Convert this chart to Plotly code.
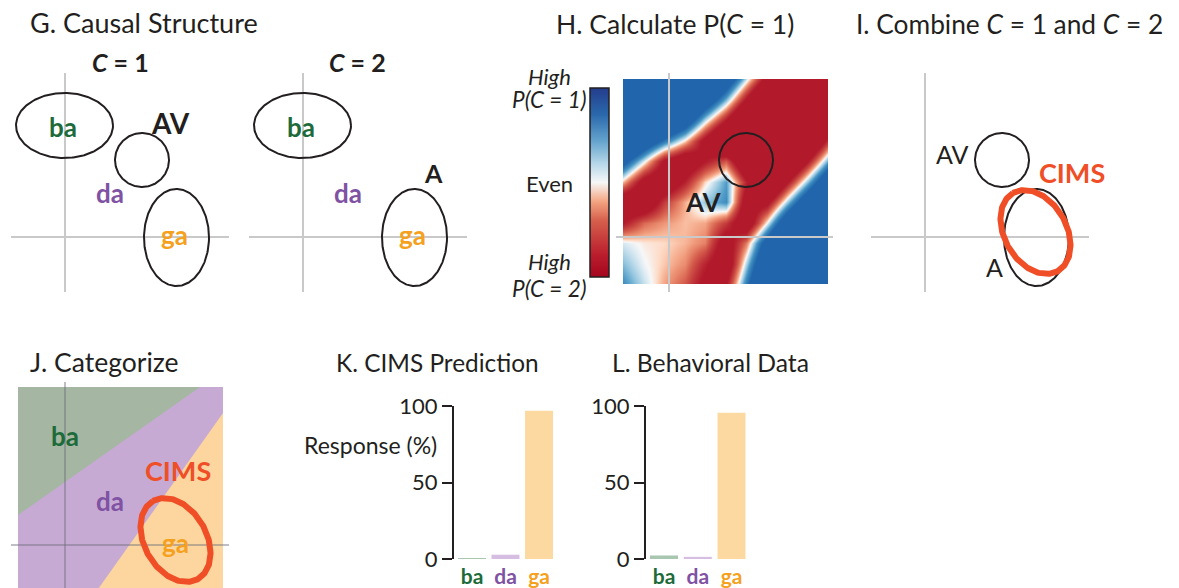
import numpy as np
import plotly.graph_objects as go
from plotly.colors import sample_colorscale

W, H = 1179, 588
INK = '#231f20'
GREEN = '#1d6b3a'
PURPLE = '#7f52a3'
ORANGE = '#f5a11d'
RED = '#ef4e26'
GRAY = '#c9c9c9'
FONT = 'Lato'

# ---------------- data ----------------
CATS = ['ba', 'da', 'ga']
CAT_TEXT_COLORS = [GREEN, PURPLE, ORANGE]
BAR_COLORS = ['#a9c6b0', '#d6bee2', '#fbd9a0']
CIMS_PRED = [0.5, 2.8, 96.9]
BEHAV = [2.3, 1.4, 95.6]
YTICKS = [0, 50, 100]

# ellipses: (cx, cy, rx, ry, angle_deg) in panel units (px from crosshair origin)
ELL_BA = (-0.5, 111.5, 48.5, 32.5, 0)
ELL_AV = (77, 77, 27, 27, 0)
ELL_GA = (111.5, -0.5, 32.5, 48.5, 0)
ELL_CIMS = (110.5, 5, 45, 31, 120)

CROSS_X = [-54, 164]
CROSS_Y = [-55, 164]

# log-odds of C = 1 (negative = P(C=2) high, positive = P(C=1) high)
HX = [-46, -25.5, -5, 15.5, 36, 56.5, 77, 97.5, 118, 138.5, 159]
HY = [158, 137.5, 117, 96.5, 76, 55.5, 35, 14.5, -6, -26.5, -47]
HZ = [
    [6.0, 6.0, 6.0, 6.0, 6.0, 3.4, 0.3, -2.8, -5.8, -6.0, -6.0],
    [6.0, 6.0, 6.0, 6.0, 3.4, 0.7, -2.4, -5.5, -6.0, -6.0, -6.0],
    [6.0, 6.0, 5.1, 3.3, 0.36, -2.2, -5.1, -6.0, -6.0, -6.0, -4.4],
    [5.9, 3.5, 1.6, -0.24, -2.7, -5.2, -6.0, -6.0, -6.0, -4.8, -1.75],
    [2.6, 0.16, -2.4, -3.5, -2.2, -1.2, -4.0, -6.0, -5.2, -2.2, 0.9],
    [-0.4, -2.8, -3.5, -2.0, -0.2, 1.0, -2.0, -5.4, -2.3, 0.75, 3.8],
    [-3.5, -3.6, -1.6, -0.45, 0.6, 1.2, -3.0, -2.6, 0.5, 3.6, 6.0],
    [-2.2, -1.0, -0.6, -0.35, -0.5, -1.6, -3.4, 0.07, 3.6, 6.0, 6.0],
    [0.2, -0.1, -0.2, -0.4, -0.8, -3.0, -0.85, 2.9, 6.0, 6.0, 6.0],
    [0.7, 0.05, -0.3, -0.7, -2.0, -3.3, 0.42, 4.2, 6.0, 6.0, 6.0],
    [1.2, 0.3, -0.5, -1.2, -2.6, -2.3, 1.5, 5.2, 6.0, 6.0, 6.0],
]
# colour of a probability (0 = P(C=2) high, 1 = P(C=1) high)
MAP_SCALE = [
    [0.0, 'rgb(178,26,44)'], [0.1, 'rgb(178,26,44)'], [0.25, 'rgb(214,96,77)'],
    [0.38, 'rgb(244,165,130)'], [0.45, 'rgb(253,219,199)'], [0.5, 'rgb(247,247,247)'],
    [0.56, 'rgb(209,229,240)'], [0.65, 'rgb(146,197,222)'], [0.75, 'rgb(67,147,195)'],
    [0.88, 'rgb(33,102,172)'], [1.0, 'rgb(33,102,172)'],
]
BAR_SCALE = [
    [0.0, 'rgb(165,5,30)'], [0.12, 'rgb(186,30,45)'], [0.3, 'rgb(214,96,77)'],
    [0.4, 'rgb(244,165,130)'], [0.5, 'rgb(247,247,247)'], [0.6, 'rgb(182,215,232)'],
    [0.72, 'rgb(100,163,205)'], [0.86, 'rgb(42,104,172)'], [1.0, 'rgb(36,60,140)'],
]
LOGIT_MIN, LOGIT_MAX = -6, 6

# categorisation regions (panel J), in panel units
J_SQUARE_X = [-47, 158, 158, -47]
J_SQUARE_Y = [-47, -47, 158, 158]
J_GREEN_X = [-47, -47, 135]
J_GREEN_Y = [30, 158, 158]
J_ORANGE_X = [31, 158, 158]
J_ORANGE_Y = [-47, -47, 132]

# ---------------- helpers ----------------
fig = go.Figure()
layout = dict(width=W, height=H, margin=dict(l=0, r=0, t=0, b=0, pad=0, autoexpand=False),
              paper_bgcolor='white', plot_bgcolor='rgba(0,0,0,0)',
              showlegend=False, font=dict(family=FONT, color=INK))
annotations = []


def axname(n, ax):
    return ax + ('' if n == 1 else str(n))


def panel(n, left, top, w, h, ox, oy):
    layout[axname(n, 'xaxis')] = dict(domain=[left / W, (left + w) / W], range=[left - ox, left + w - ox],
                                      visible=False, fixedrange=True, anchor=axname(n, 'y'))
    layout[axname(n, 'yaxis')] = dict(domain=[1 - (top + h) / H, 1 - top / H], range=[oy - (top + h), oy - top],
                                      visible=False, fixedrange=True, anchor=axname(n, 'x'))


def refs(n):
    return ('x' if n == 1 else f'x{n}'), ('y' if n == 1 else f'y{n}')


def line(n, xs, ys, color=GRAY, width=2):
    xr, yr = refs(n)
    fig.add_trace(go.Scatter(x=xs, y=ys, mode='lines', line=dict(color=color, width=width),
                             xaxis=xr, yaxis=yr, hoverinfo='skip'))


def crosshair(n, color=GRAY):
    line(n, CROSS_X, [0, 0], color)
    line(n, [0, 0], CROSS_Y, color)


def ellipse(n, e, color=INK, width=2):
    cx, cy, rx, ry, ang = e
    t = np.linspace(0, 2 * np.pi, 241)
    a = np.deg2rad(ang)
    x = cx + rx * np.cos(t) * np.cos(a) - ry * np.sin(t) * np.sin(a)
    y = cy + rx * np.cos(t) * np.sin(a) + ry * np.sin(t) * np.cos(a)
    line(n, x, y, color, width)


def label(n, x, y, text, color=INK, size=26, bold=True):
    xr, yr = refs(n)
    annotations.append(dict(x=x, y=y, xref=xr, yref=yr, text=(f'<b>{text}</b>' if bold else text),
                            showarrow=False, font=dict(family=FONT, size=size, color=color),
                            xanchor='center', yanchor='middle'))


def ptext(px, py, text, size=26, anchor='left', color=INK):
    annotations.append(dict(x=px / W, y=1 - py / H, xref='paper', yref='paper', text=text,
                            showarrow=False, font=dict(family=FONT, size=size, color=color),
                            xanchor=anchor, yanchor='middle'))


# ---------------- G: causal structure ----------------
panel(1, 0, 40, 240, 260, 65, 237)
panel(2, 240, 40, 240, 260, 303, 237)
for n in (1, 2):
    crosshair(n)
    ellipse(n, ELL_BA)
    ellipse(n, ELL_GA)
    label(n, -2, 110, 'ba', GREEN)
    label(n, 45, 44, 'da', PURPLE)
    label(n, 109, 2, 'ga', ORANGE)
ellipse(1, ELL_AV)
label(1, 105, 114, 'AV', INK, 28)
label(2, 130, 64, 'A', INK, 25)
label(1, 55, 175, '<i>C</i> = 1', INK, 25)
label(2, 54, 175, '<i>C</i> = 2', INK, 25)
ptext(28, 23, 'G. Causal Structure', size=27)

# ---------------- H: P(C=1) map ----------------
zs = np.linspace(LOGIT_MIN, LOGIT_MAX, 61)
probs = 1 / (1 + np.exp(-zs))
heat_scale = [[float((z - LOGIT_MIN) / (LOGIT_MAX - LOGIT_MIN)), c]
              for z, c in zip(zs, sample_colorscale(MAP_SCALE, list(probs)))]
heat_scale[0][0], heat_scale[-1][0] = 0.0, 1.0

layout['xaxis3'] = dict(domain=[623 / W, 828 / W], range=[-46, 159], visible=False, fixedrange=True, anchor='y3')
layout['yaxis3'] = dict(domain=[1 - 284 / H, 1 - 79 / H], range=[-47, 158], visible=False, fixedrange=True, anchor='x3')
fig.add_trace(go.Heatmap(x=HX, y=HY[::-1], z=HZ[::-1], zmin=LOGIT_MIN, zmax=LOGIT_MAX, zsmooth='best',
                         colorscale=heat_scale, showscale=False, xaxis='x3', yaxis='y3', hoverinfo='skip'))
panel(4, 600, 65, 240, 235, 669, 237)
# colour bar (probability scale)
fig.add_trace(go.Scatter(x=[None], y=[None], mode='markers', xaxis='x4', yaxis='y4', hoverinfo='skip',
                         marker=dict(color=[0.5], cmin=0, cmax=1, colorscale=BAR_SCALE, showscale=True,
                                     colorbar=dict(x=590 / W, xanchor='left', y=1 - 182.5 / H, yanchor='middle',
                                                   len=189 / H, lenmode='fraction', thickness=19,
                                                   thicknessmode='pixels', outlinewidth=1.5, outlinecolor=INK,
                                                   showticklabels=False, ticks='', xpad=0, ypad=0))))
line(4, [-53, 164], [0, 0])
line(4, [0, 0], CROSS_Y)
ellipse(4, ELL_AV)
label(4, 34, 35, 'AV', INK, 26)
ptext(675, 24, 'H. Calculate P(<i>C</i> = 1)', size=26.5, anchor='center')
ptext(549, 76, '<i>High</i>', size=22, anchor='center')
ptext(549, 99, '<i>P(C = 1)</i>', size=22.5, anchor='center')
ptext(549, 183, 'Even', size=22, anchor='center')
ptext(549, 262, '<i>High</i>', size=22, anchor='center')
ptext(549, 288, '<i>P(C = 2)</i>', size=22.5, anchor='center')

# ---------------- I: combine ----------------
panel(5, 860, 65, 240, 235, 925, 237)
crosshair(5)
ellipse(5, ELL_AV)
ellipse(5, ELL_GA)
ellipse(5, ELL_CIMS, RED, 6)
label(5, 27, 83, 'AV', INK, 25, bold=False)
label(5, 69, -30, 'A', INK, 25, bold=False)
label(5, 147, 64, 'CIMS', RED, 27)
ptext(854, 24, 'I. Combine <i>C</i> = 1 and <i>C</i> = 2', size=26.3)

# ---------------- J: categorize ----------------
panel(6, 0, 375, 240, 213, 65, 545)
for xs, ys, col in ((J_SQUARE_X, J_SQUARE_Y, '#c6aad4'), (J_GREEN_X, J_GREEN_Y, '#a5b6a2'),
                    (J_ORANGE_X, J_ORANGE_Y, '#fcd69e')):
    fig.add_trace(go.Scatter(x=xs, y=ys, fill='toself', fillcolor=col, mode='lines',
                             line=dict(width=0, color=col), xaxis='x6', yaxis='y6', hoverinfo='skip'))
line(6, CROSS_X, [0, 0], 'rgba(110,110,125,0.45)')
line(6, [0, 0], [-60, 163], 'rgba(110,110,125,0.45)')
ellipse(6, ELL_CIMS, RED, 6)
label(6, 0, 109, 'ba', GREEN)
label(6, 45, 44, 'da', PURPLE)
label(6, 110, 2, 'ga', ORANGE)
label(6, 113, 75, 'CIMS', RED, 27)
ptext(28, 362, 'J. Categorize', size=26.5)

# ---------------- K / L: bars ----------------
ticktext = [f'<b><span style="color:{c}">{t}</span></b>' for t, c in zip(CATS, CAT_TEXT_COLORS)]


def bar_axes(n, axis_px, spacing):
    r0 = -18 / spacing
    layout[f'xaxis{n}'] = dict(domain=[axis_px / W, (axis_px + 102) / W], range=[r0, r0 + 102 / spacing],
                               showline=False, showgrid=False, zeroline=False, ticks='',
                               tickvals=[0, 1, 2], ticktext=ticktext, tickfont=dict(size=21, family=FONT),
                               ticklabelstandoff=3, fixedrange=True, anchor=f'y{n}')
    layout[f'yaxis{n}'] = dict(domain=[1 - 559 / H, 1 - 406 / H], range=[0, 100], tickvals=YTICKS,
                               showline=True, linecolor=INK, linewidth=2, ticks='outside', ticklen=10,
                               tickwidth=2, tickcolor=INK, showgrid=False, zeroline=False,
                               tickfont=dict(size=22, family=FONT, color=INK), fixedrange=True,
                               anchor=f'x{n}')


bar_axes(7, 454, 33.5)
bar_axes(8, 646, 33.75)
fig.add_trace(go.Bar(x=[0, 1, 2], y=CIMS_PRED, marker=dict(color=BAR_COLORS, line=dict(width=0)),
                     width=0.835, xaxis='x7', yaxis='y7', hoverinfo='skip'))
fig.add_trace(go.Bar(x=[0, 1, 2], y=BEHAV, marker=dict(color=BAR_COLORS, line=dict(width=0)),
                     width=0.83, xaxis='x8', yaxis='y8', hoverinfo='skip'))
ptext(437, 362, 'K. CIMS Prediction', size=24.4, anchor='center')
ptext(710, 362, 'L. Behavioral Data', size=24.7, anchor='center')
ptext(302, 445, 'Response (%)', size=23)

layout['annotations'] = annotations
fig.update_layout(**layout)
fig.write_html('out.html', config={'displayModeBar': False},
               post_script="document.body.style.margin='0px';document.body.style.overflow='hidden';")
